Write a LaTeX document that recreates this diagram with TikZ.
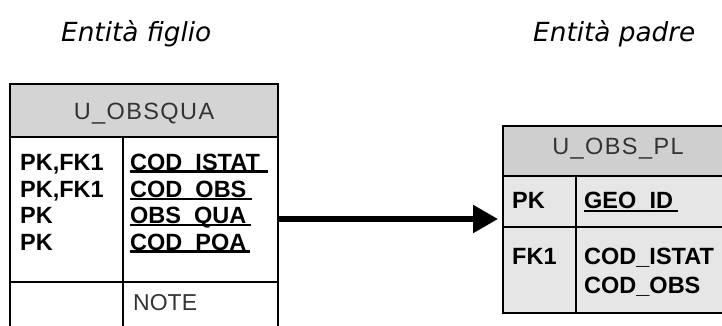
\documentclass[tikz,border=0pt]{standalone}
\usepackage{fontspec}
\setmainfont{Liberation Sans}
\newfontfamily\titlefont{DejaVu Sans}
\newfontfamily\hdrfont[LetterSpace=6]{Liberation Sans}
\usetikzlibrary{arrows.meta}
\definecolor{hdrL}{HTML}{D4D4D4}
\definecolor{hdrR}{HTML}{CFCFCF}
\definecolor{bodyR}{HTML}{E6E6E6}
\definecolor{hdrtext}{HTML}{333333}
\tikzset{
  tbl/.style={draw=black, line width=1.4pt},
  txt/.style={inner sep=0pt, anchor=base west, font=\bfseries\fontsize{23.5}{23.5}\selectfont},
  hdrtxt/.style={inner sep=0pt, anchor=base, text=hdrtext, font=\hdrfont\fontsize{23.5}{23.5}\selectfont},
  plain/.style={inner sep=0pt, anchor=base west, text=hdrtext, font=\fontsize{23}{23}\selectfont},
  title/.style={inner sep=0pt, anchor=base west, font=\titlefont\itshape\fontsize{26.3}{26.3}\selectfont},
  ulthick/.style={line width=3.2pt},
  ulthin/.style={line width=2pt},
  link/.style={line width=5.5pt, -{Triangle[length=25pt,width=27pt]}, shorten >=5pt}
}
\begin{document}
\begin{tikzpicture}[x=1pt,y=-1pt]
\useasboundingbox (0,0) rectangle (722,325);
\clip (0,0) rectangle (722,325);
% titles
\node[title] (tfiglio) at (61,41) {Entità figlio};
\node[title] (tpadre) at (533,41) {Entità padre};
% left table
\fill[hdrL] (10,84) rectangle (278,137);
\draw[tbl] (10,345) -- (10,84) -- (278,84) -- (278,345);
\draw[tbl] (10,137) -- (278,137);
\draw[tbl] (10,282) -- (278,282);
\draw[tbl] (123,137) -- (123,345);
\node[hdrtxt] (hL) at (144,119) {U\_OBSQUA};
\node[txt] (k1) at (20,170) {PK,FK1};
\node[txt] (k2) at (20,197) {PK,FK1};
\node[txt] (k3) at (20,223) {PK};
\node[txt] (k4) at (20,250) {PK};
\node[txt] (f1) at (130,170) {COD\_ISTAT};
\node[txt] (f2) at (130,197) {COD\_OBS};
\node[txt] (f3) at (130,223) {OBS\_QUA};
\node[txt] (f4) at (130,250) {COD\_POA};
\draw[ulthick] (130,171.5) -- (268,171.5);
\draw[ulthin] (130,198.5) -- (252,198.5);
\draw[ulthin] (130,224.5) -- (251,224.5);
\draw[ulthick] (130,251.5) -- (250,251.5);
\node[plain] (note) at (133,310) {NOTE};
% right table
\fill[bodyR] (503,176) rectangle (740,313);
\fill[hdrR] (503,126) rectangle (740,176);
\draw[tbl] (740,126) -- (503,126) -- (503,313) -- (740,313);
\draw[tbl] (503,176) -- (740,176);
\draw[tbl] (503,227) -- (740,227);
\draw[tbl] (576,176) -- (576,313);
\node[hdrtxt] (hR) at (618,154) {U\_OBS\_PL};
\node[txt] (rk1) at (512,208) {PK};
\node[txt] (rf1) at (584,208) {GEO\_ID};
\draw[ulthin] (584,210.5) -- (678,210.5);
\node[txt] (rk2) at (512,264) {FK1};
\node[txt] (rf2) at (584,264) {COD\_ISTAT};
\node[txt] (rf3) at (584,293) {COD\_OBS};
% connector
\coordinate (L) at (278,219);
\coordinate (R) at (503,219);
\draw[link] (L) -- (R);
\end{tikzpicture}
\end{document}
